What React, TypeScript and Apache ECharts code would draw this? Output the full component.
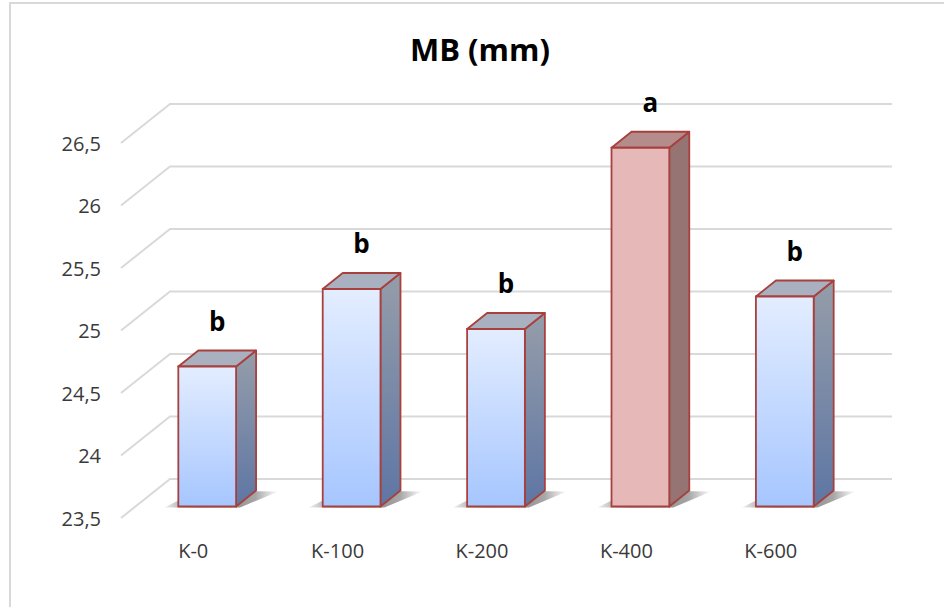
import React, { useEffect, useRef } from "react";
import * as echarts from "echarts";

const categories = ["K-0", "K-100", "K-200", "K-400", "K-600"];
const values = [24.62, 25.24, 24.92, 26.37, 25.18];
const letters = ["b", "b", "b", "a", "b"];
const yTicks = [23.5, 24, 24.5, 25, 25.5, 26, 26.5];
const title = "MB (mm)";

const FONT = '"Open Sans", "Liberation Sans", sans-serif';
// oblique projection offsets
const WALL_DX = 49;
const WALL_DY = -39;
const BAR_OX = 14;
const BAR_OY = -11.5;
const BAR_DX = 20;
const BAR_DY = -16;

export default function App() {
  const ref = useRef<HTMLDivElement>(null);

  useEffect(() => {
    if (!ref.current) return;
    const chart = echarts.init(ref.current, undefined, { renderer: "svg" });
    const yMin = yTicks[0];
    const yMax = yTicks[yTicks.length - 1];

    const gridRender = (params: any, api: any) => {
      const cs = params.coordSys;
      const y = api.coord([0, api.value(1)])[1];
      return {
        type: "polyline",
        silent: true,
        shape: {
          points: [
            [cs.x, y],
            [cs.x + WALL_DX, y + WALL_DY],
            [cs.x + cs.width + WALL_DX, y + WALL_DY],
          ],
        },
        style: { stroke: "#D9D9D9", lineWidth: 2, fill: null },
      };
    };

    const barRender = (params: any, api: any) => {
      const i = api.value(0);
      const v = api.value(1);
      const top = api.coord([i, v]);
      const bot = api.coord([i, yMin]);
      const band = api.size([1, 0])[0];
      const w = band * 0.4;
      const x0 = top[0] + BAR_OX - w / 2;
      const x1 = x0 + w;
      const yT = top[1] + BAR_OY;
      const yB = bot[1] + BAR_OY;
      const isA = letters[params.dataIndex] === "a";
      const edge = "#A8403D";
      const frontFill = isA
        ? "#E6B9B8"
        : {
            type: "linear", x: 0, y: 0, x2: 0, y2: 1,
            colorStops: [
              { offset: 0, color: "#E3EDFF" },
              { offset: 1, color: "#A6C6FF" },
            ],
          };
      const sideFill = isA
        ? "#957473"
        : {
            type: "linear", x: 0, y: 0, x2: 0, y2: 1,
            colorStops: [
              { offset: 0, color: "#959DA9" },
              { offset: 1, color: "#5E76A4" },
            ],
          };
      const topFill = isA ? "#B48C8B" : "#A9B0BF";
      return {
        type: "group",
        children: [
          {
            type: "polygon",
            silent: true,
            shape: {
              points: [
                [x0 - 14, yB + 1],
                [x1 + 4, yB + 1],
                [x1 + BAR_DX + 22, yB + BAR_DY + 1],
                [x0 + BAR_DX, yB + BAR_DY],
              ],
            },
            style: {
              fill: {
                type: "linear", x: 0, y: 0, x2: 1, y2: 0,
                colorStops: [
                  { offset: 0, color: "rgba(0,0,0,0.05)" },
                  { offset: 0.3, color: "rgba(0,0,0,0.55)" },
                  { offset: 0.8, color: "rgba(0,0,0,0.35)" },
                  { offset: 1, color: "rgba(0,0,0,0)" },
                ],
              },
            },
          },
          {
            type: "polygon",
            shape: {
              points: [
                [x1, yT],
                [x1 + BAR_DX, yT + BAR_DY],
                [x1 + BAR_DX, yB + BAR_DY],
                [x1, yB],
              ],
            },
            style: { fill: sideFill, stroke: edge, lineWidth: 1.8, lineJoin: "round" },
          },
          {
            type: "polygon",
            shape: {
              points: [
                [x0, yT],
                [x1, yT],
                [x1 + BAR_DX, yT + BAR_DY],
                [x0 + BAR_DX, yT + BAR_DY],
              ],
            },
            style: { fill: topFill, stroke: edge, lineWidth: 1.8, lineJoin: "round" },
          },
          {
            type: "rect",
            shape: { x: x0, y: yT, width: w, height: yB - yT },
            style: { fill: frontFill, stroke: edge, lineWidth: 1.8 },
          },
          {
            type: "text",
            style: {
              text: letters[params.dataIndex],
              x: (x0 + x1) / 2 + BAR_DX / 2,
              y: yT + BAR_DY - 30,
              align: "center",
              verticalAlign: "middle",
              textAlign: "center",
              textVerticalAlign: "middle",
              font: `bold 26px ${FONT}`,
              fill: "#000000",
            },
          },
        ],
      };
    };

    chart.setOption({
      animation: false,
      backgroundColor: "#ffffff",
      title: {
        text: title,
        left: 480,
        top: 30,
        textAlign: "center",
        padding: 0,
        textStyle: {
          fontFamily: FONT,
          fontWeight: "bold",
          fontSize: 31,
          color: "#000000",
          lineHeight: 38,
        },
      },
      graphic: [
        {
          type: "rect",
          silent: true,
          z: -10,
          shape: { x: 10, y: 3, width: 1000, height: 700 },
          style: { fill: null, stroke: "#D9D9D9", lineWidth: 2 },
        },
      ],
      grid: { left: 121, width: 722, top: 143, bottom: 89, containLabel: false },
      xAxis: {
        type: "category",
        data: categories,
        axisLine: { show: false },
        axisTick: { show: false },
        splitLine: { show: false },
        axisLabel: {
          margin: 21,
          fontFamily: FONT,
          fontSize: 20,
          lineHeight: 22,
          color: "#3a3a3a",
        },
      },
      yAxis: {
        type: "value",
        min: yMin,
        max: yMax,
        interval: 0.5,
        axisLine: { show: false },
        axisTick: { show: false },
        splitLine: { show: false },
        axisLabel: {
          margin: 20,
          fontFamily: FONT,
          fontSize: 20,
          color: "#3a3a3a",
          formatter: (val: number) => String(val).replace(".", ","),
        },
      },
      series: [
        {
          type: "custom",
          name: "grid",
          silent: true,
          z: 1,
          renderItem: gridRender,
          encode: { x: 0, y: 1 },
          data: yTicks.map((t) => [0, t]),
        },
        {
          type: "custom",
          name: "MB",
          z: 2,
          renderItem: barRender,
          encode: { x: 0, y: 1 },
          data: values.map((v, i) => [i, v]),
        },
      ],
    });

    return () => chart.dispose();
  }, []);

  return (
    <div
      ref={ref}
      style={{ position: "fixed", left: 0, top: 0, width: 944, height: 607, background: "#fff" }}
    />
  );
}
